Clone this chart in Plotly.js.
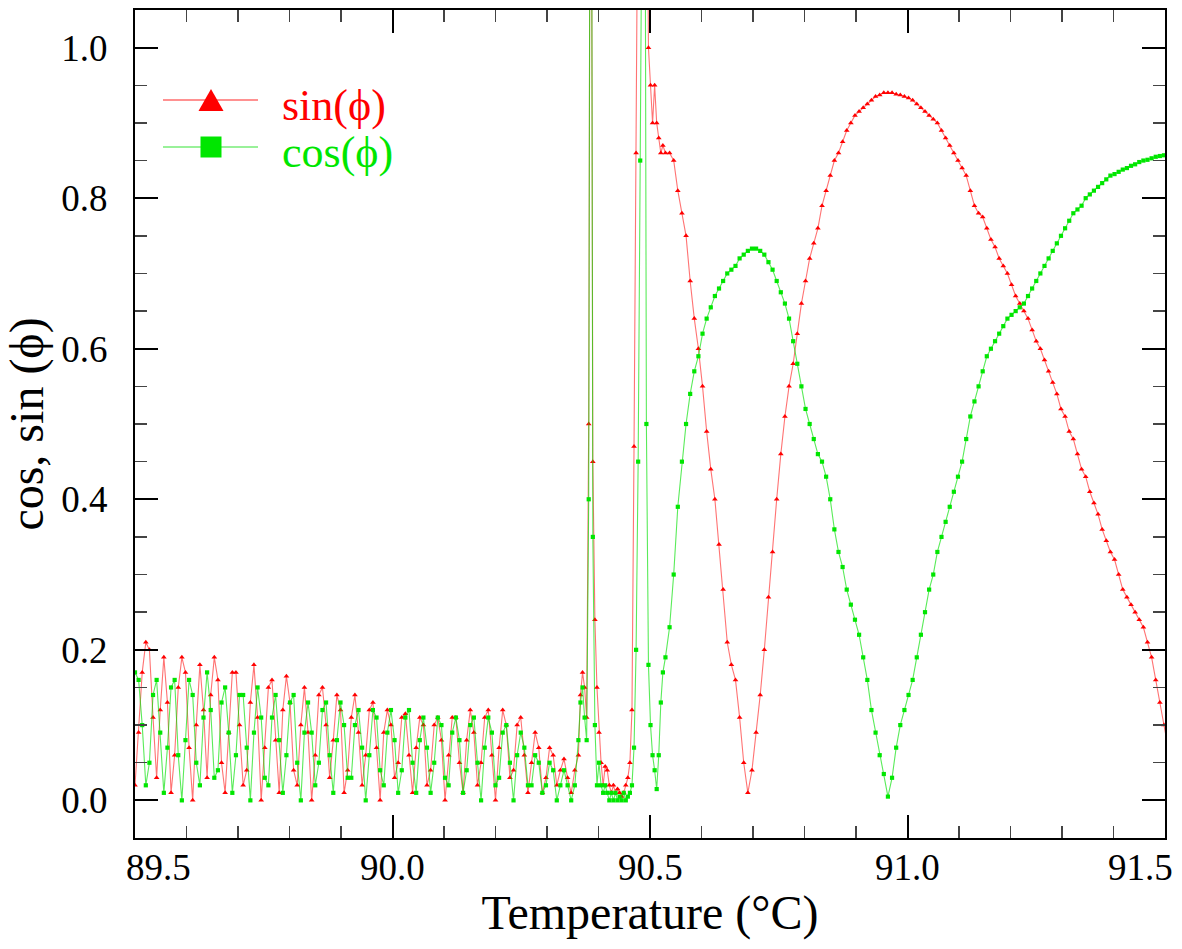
<!DOCTYPE html>
<html>
<head>
<meta charset="utf-8">
<script src="https://cdn.plot.ly/plotly-3.0.1.min.js"></script>
<style>
  html, body { margin: 0; padding: 0; background: #ffffff; }
  #chart { width: 1182px; height: 949px; }
</style>
</head>
<body>
<div id="chart"></div>
<script>
// ---- Data ----
// Region A: oscillating part before the transition
const tempA = [
  89.500, 89.507, 89.514, 89.521, 89.528, 89.535, 89.542, 89.549, 89.556, 89.563,
  89.570, 89.577, 89.584, 89.591, 89.598, 89.605, 89.612, 89.619, 89.626, 89.633,
  89.640, 89.647, 89.654, 89.661, 89.668, 89.675, 89.682, 89.689, 89.696, 89.703,
  89.710, 89.717, 89.724, 89.731, 89.738, 89.745, 89.752, 89.759, 89.766, 89.773,
  89.780, 89.787, 89.794, 89.801, 89.808, 89.815, 89.822, 89.829, 89.836, 89.843,
  89.850, 89.857, 89.864, 89.871, 89.878, 89.885, 89.892, 89.899, 89.906, 89.913,
  89.920, 89.927, 89.934, 89.941, 89.948, 89.955, 89.962, 89.969, 89.976, 89.983,
  89.990, 89.997, 90.004, 90.011, 90.018, 90.025, 90.032, 90.039, 90.046, 90.053,
  90.060, 90.067, 90.074, 90.081, 90.088, 90.095, 90.102, 90.109, 90.116, 90.123,
  90.130, 90.137, 90.144, 90.151, 90.158, 90.165, 90.172, 90.179, 90.186, 90.193,
  90.200, 90.207, 90.214, 90.221, 90.228, 90.235, 90.242, 90.249, 90.256, 90.263,
  90.270, 90.277, 90.284, 90.291, 90.298, 90.305, 90.312, 90.319, 90.326, 90.333,
  90.340, 90.347, 90.354, 90.361
];
const sinA = [
  0.02, 0.09, 0.17, 0.21, 0.20, 0.11, 0.03, 0.12, 0.19, 0.13,
  0.01, 0.06, 0.15, 0.19, 0.17, 0.07, 0.00, 0.10, 0.18, 0.12,
  0.03, 0.14, 0.19, 0.16, 0.05, 0.01, 0.09, 0.17, 0.17, 0.10,
  0.02, 0.04, 0.13, 0.18, 0.11, 0.00, 0.07, 0.15, 0.16, 0.08,
  0.01, 0.12, 0.165, 0.13, 0.04, 0.02, 0.10, 0.15, 0.09, 0.00,
  0.06, 0.14, 0.15, 0.10, 0.03, 0.08, 0.14, 0.12, 0.01, 0.04,
  0.11, 0.14, 0.09, 0.02, 0.06, 0.12, 0.13, 0.07, 0.00, 0.09,
  0.12, 0.10, 0.03, 0.05, 0.11, 0.115, 0.06, 0.01, 0.07, 0.11,
  0.10, 0.02, 0.04, 0.10, 0.11, 0.08, 0.00, 0.06, 0.11, 0.11,
  0.05, 0.01, 0.08, 0.12, 0.09, 0.02, 0.05, 0.11, 0.12, 0.06,
  0.00, 0.07, 0.12, 0.10, 0.03, 0.04, 0.10, 0.11, 0.06, 0.01,
  0.05, 0.09, 0.07, 0.01, 0.03, 0.07, 0.06, 0.02, 0.04, 0.055,
  0.03, 0.01, 0.04, 0.06
];
const cosA = [
  0.17, 0.16, 0.10, 0.02, 0.05, 0.14, 0.16, 0.09, 0.01, 0.07,
  0.15, 0.16, 0.06, 0.00, 0.08, 0.16, 0.14, 0.05, 0.02, 0.11,
  0.17, 0.12, 0.03, 0.04, 0.13, 0.15, 0.09, 0.01, 0.06, 0.14,
  0.14, 0.07, 0.00, 0.09, 0.15, 0.11, 0.03, 0.02, 0.11, 0.14,
  0.08, 0.01, 0.06, 0.13, 0.14, 0.05, 0.00, 0.09, 0.13, 0.09,
  0.02, 0.05, 0.12, 0.13, 0.06, 0.01, 0.08, 0.13, 0.10, 0.03,
  0.03, 0.10, 0.12, 0.07, 0.00, 0.06, 0.12, 0.11, 0.04, 0.02,
  0.09, 0.12, 0.08, 0.01, 0.04, 0.11, 0.12, 0.05, 0.01, 0.08,
  0.11, 0.07, 0.01, 0.05, 0.11, 0.10, 0.03, 0.02, 0.09, 0.11,
  0.08, 0.01, 0.04, 0.10, 0.11, 0.05, 0.00, 0.07, 0.11, 0.09,
  0.02, 0.03, 0.09, 0.10, 0.05, 0.00, 0.06, 0.09, 0.07, 0.02,
  0.02, 0.06, 0.05, 0.01, 0.02, 0.05, 0.04, 0.00, 0.02, 0.04,
  0.02, 0.00, 0.02, 0.08
];

// Region B: the two sharp spikes
const tempB = [
  90.365, 90.369, 90.373, 90.377, 90.381, 90.385, 90.389, 90.393, 90.397, 90.401,
  90.405, 90.409, 90.413, 90.417, 90.421, 90.425, 90.429, 90.433, 90.437, 90.441,
  90.445, 90.449, 90.453, 90.457, 90.461, 90.465, 90.469, 90.473, 90.477, 90.481,
  90.485, 90.489, 90.493, 90.497, 90.501, 90.505, 90.509, 90.513, 90.517, 90.521,
  90.525
];
const sinB = [
  0.14, 0.17, 0.15, 0.11, 0.50, 1.70, 0.45, 0.24, 0.15, 0.09,
  0.05, 0.02, 0.045, 0.04, 0.02, 0.01, 0.02, 0.01, 0.015, 0.01,
  0.005, 0.01, 0.02, 0.03, 0.05, 0.12, 0.47, 0.86, 1.30, 1.80,
  2.00, 1.80, 1.40, 1.00, 0.95, 0.90, 0.95, 0.90, 0.88, 0.86,
  0.87
];
const cosB = [
  0.13, 0.15, 0.11, 0.08, 0.40, 1.90, 0.35, 0.10, 0.02, 0.05,
  0.02, 0.01, 0.02, 0.01, 0.00, 0.01, 0.00, 0.01, 0.00, 0.005,
  0.00, 0.01, 0.00, 0.005, 0.01, 0.02, 0.07, 0.20, 0.45, 0.85,
  1.60, 1.70, 0.50, 0.18, 0.10, 0.06, 0.04, 0.015, 0.06, 0.13,
  0.17
];

// Region C: smooth part after the transition
const tempC = [
  90.530, 90.538, 90.546, 90.554, 90.562, 90.570, 90.578, 90.586, 90.594, 90.602,
  90.610, 90.618, 90.626, 90.634, 90.642, 90.650, 90.658, 90.666, 90.674, 90.682,
  90.690, 90.698, 90.706, 90.714, 90.722, 90.730, 90.738, 90.746, 90.754, 90.762,
  90.770, 90.778, 90.786, 90.794, 90.802, 90.810, 90.818, 90.826, 90.834, 90.842,
  90.850, 90.858, 90.866, 90.874, 90.882, 90.890, 90.898, 90.906, 90.914, 90.922,
  90.930, 90.938, 90.946, 90.954, 90.962, 90.970, 90.978, 90.986, 90.994, 91.002,
  91.010, 91.018, 91.026, 91.034, 91.042, 91.050, 91.058, 91.066, 91.074, 91.082,
  91.090, 91.098, 91.106, 91.114, 91.122, 91.130, 91.138, 91.146, 91.154, 91.162,
  91.170, 91.178, 91.186, 91.194, 91.202, 91.210, 91.218, 91.226, 91.234, 91.242,
  91.250, 91.258, 91.266, 91.274, 91.282, 91.290, 91.298, 91.306, 91.314, 91.322,
  91.330, 91.338, 91.346, 91.354, 91.362, 91.370, 91.378, 91.386, 91.394, 91.402,
  91.410, 91.418, 91.426, 91.434, 91.442, 91.450, 91.458, 91.466, 91.474, 91.482,
  91.490, 91.498, 91.506
];
const sinC = [
  0.86, 0.86, 0.85, 0.81, 0.78, 0.75, 0.69, 0.64, 0.60, 0.55,
  0.49, 0.44, 0.40, 0.34, 0.28, 0.21, 0.18, 0.16, 0.11, 0.05,
  0.01, 0.04, 0.09, 0.14, 0.20, 0.27, 0.33, 0.40, 0.46, 0.51,
  0.55, 0.58, 0.62, 0.66, 0.69, 0.72, 0.74, 0.76, 0.79, 0.81,
  0.83, 0.85, 0.86, 0.875, 0.89, 0.90, 0.91, 0.915, 0.92, 0.925,
  0.93, 0.935, 0.937, 0.94, 0.94, 0.94, 0.938, 0.937, 0.935, 0.933,
  0.93, 0.925, 0.92, 0.915, 0.91, 0.905, 0.90, 0.89, 0.88, 0.87,
  0.86, 0.85, 0.84, 0.83, 0.81, 0.79, 0.78, 0.775, 0.76, 0.745,
  0.735, 0.72, 0.71, 0.70, 0.685, 0.67, 0.66, 0.65, 0.64, 0.625,
  0.61, 0.60, 0.585, 0.57, 0.555, 0.54, 0.52, 0.51, 0.49, 0.48,
  0.46, 0.44, 0.43, 0.41, 0.395, 0.38, 0.36, 0.345, 0.33, 0.32,
  0.30, 0.28, 0.27, 0.26, 0.25, 0.24, 0.23, 0.21, 0.19, 0.16,
  0.13, 0.10, 0.07
];
const cosC = [
  0.19, 0.23, 0.30, 0.39, 0.45, 0.50, 0.54, 0.57, 0.59, 0.62,
  0.64, 0.655, 0.67, 0.68, 0.69, 0.70, 0.705, 0.71, 0.72, 0.725,
  0.73, 0.733, 0.733, 0.73, 0.725, 0.715, 0.705, 0.69, 0.675, 0.66,
  0.64, 0.61, 0.58, 0.55, 0.52, 0.50, 0.48, 0.46, 0.45, 0.43,
  0.40, 0.36, 0.33, 0.31, 0.28, 0.26, 0.24, 0.22, 0.19, 0.16,
  0.12, 0.09, 0.06, 0.035, 0.005, 0.03, 0.07, 0.10, 0.12, 0.14,
  0.16, 0.19, 0.22, 0.25, 0.28, 0.30, 0.33, 0.35, 0.37, 0.39,
  0.41, 0.43, 0.45, 0.48, 0.51, 0.53, 0.55, 0.57, 0.59, 0.60,
  0.61, 0.62, 0.63, 0.64, 0.645, 0.65, 0.655, 0.66, 0.67, 0.68,
  0.69, 0.70, 0.71, 0.72, 0.73, 0.74, 0.75, 0.76, 0.77, 0.78,
  0.785, 0.79, 0.80, 0.805, 0.81, 0.815, 0.82, 0.825, 0.83, 0.832,
  0.835, 0.838, 0.84, 0.843, 0.845, 0.848, 0.85, 0.851, 0.853, 0.855,
  0.856, 0.857, 0.859
];

const seriesNames = ['sin(\u03D5)', 'cos(\u03D5)'];
const xTickVals = [89.5, 90.0, 90.5, 91.0, 91.5];
const xTickLabels = ['89.5', '90.0', '90.5', '91.0', '91.5'];
const xTitle = 'Temperature (\u00B0C)';
const yTitle = 'cos, sin (\u03D5)';

// ---- Build traces ----
const temperature = tempA.concat(tempB, tempC);
const sinPhi = sinA.concat(sinB, sinC);
const cosPhi = cosA.concat(cosB, cosC);

const RED = '#ff0000';
const GREEN = '#00e600';
const FONT = 'Liberation Serif';

const traces = [
  {
    x: temperature, y: sinPhi, name: seriesNames[0], type: 'scatter', mode: 'lines+markers',
    line: { color: 'rgba(255,40,40,0.65)', width: 1.1 },
    marker: { symbol: 'triangle-up', size: 5, color: RED, line: { width: 0 } },
    cliponaxis: true
  },
  {
    x: temperature, y: cosPhi, name: seriesNames[1], type: 'scatter', mode: 'lines+markers',
    line: { color: 'rgba(0,225,0,0.65)', width: 1.1 },
    marker: { symbol: 'square', size: 4.2, color: GREEN, line: { width: 0 } },
    cliponaxis: true
  }
];

// ---- Layout ----
const L = 135, R = 1165, T = 10, B = 838;
const W = R - L, H = B - T;
function px(xp) { return (xp - L) / W; }
function py(yp) { return (B - yp) / H; }

const annotations = xTickVals.map((v, i) => ({
  x: v, xref: 'x', y: py(867), yref: 'paper',
  text: xTickLabels[i], showarrow: false,
  xanchor: 'center', yanchor: 'middle',
  xshift: i === 0 ? 23 : (i === xTickVals.length - 1 ? -25 : 0),
  font: { family: FONT, size: 37, color: '#000' }
}));

// legend entries (drawn by hand to keep the long sample lines)
annotations.push(
  { x: px(280), xref: 'paper', y: py(106), yref: 'paper', text: seriesNames[0], showarrow: false,
    xanchor: 'left', yanchor: 'middle', font: { family: FONT, size: 44, color: RED } },
  { x: px(280), xref: 'paper', y: py(152), yref: 'paper', text: seriesNames[1], showarrow: false,
    xanchor: 'left', yanchor: 'middle', font: { family: FONT, size: 44, color: GREEN } }
);

const shapes = [
  { type: 'line', xref: 'paper', yref: 'paper', x0: px(163), x1: px(258), y0: py(100), y1: py(100),
    line: { color: 'rgba(255,60,60,0.75)', width: 1.5 } },
  { type: 'path', xref: 'paper', yref: 'paper',
    path: 'M ' + px(198.5) + ' ' + py(111) + ' L ' + px(223.5) + ' ' + py(111) + ' L ' + px(211) + ' ' + py(89) + ' Z',
    fillcolor: RED, line: { width: 0 } },
  { type: 'line', xref: 'paper', yref: 'paper', x0: px(163), x1: px(258), y0: py(147), y1: py(147),
    line: { color: 'rgba(0,220,0,0.8)', width: 1.2 } },
  { type: 'rect', xref: 'paper', yref: 'paper', x0: px(200.5), x1: px(221.5), y0: py(157.5), y1: py(136.5),
    fillcolor: GREEN, line: { width: 0 } }
];

const layout = {
  width: 1182, height: 949,
  margin: { l: L, r: 1182 - R, t: T, b: 949 - B, pad: 0 },
  paper_bgcolor: '#ffffff', plot_bgcolor: '#ffffff',
  showlegend: false,
  font: { family: FONT, color: '#000' },
  xaxis: {
    range: [89.5, 91.5], showgrid: false, zeroline: false,
    showline: true, linecolor: '#000', linewidth: 2, mirror: 'ticks',
    ticks: 'inside', ticklen: 23, tickwidth: 2, tickcolor: '#000',
    tickmode: 'array', tickvals: xTickVals, showticklabels: false,
    minor: { dtick: 0.1, tick0: 89.5, ticks: 'inside', ticklen: 12, tickwidth: 1.5, tickcolor: '#444', showgrid: false },
    title: { text: xTitle, font: { family: FONT, size: 48, color: '#000' }, standoff: 56 }
  },
  yaxis: {
    range: [-0.05, 1.05], showgrid: false, zeroline: false,
    showline: true, linecolor: '#000', linewidth: 2, mirror: 'ticks',
    ticks: 'inside', ticklen: 23, tickwidth: 2, tickcolor: '#000',
    tick0: 0, dtick: 0.2, tickformat: '.1f',
    tickfont: { family: FONT, size: 37, color: '#000' },
    ticklabelstandoff: 18,
    minor: { dtick: 0.05, tick0: 0, ticks: 'inside', ticklen: 12, tickwidth: 1.5, tickcolor: '#444', showgrid: false },
    title: { text: yTitle, font: { family: FONT, size: 48, color: '#000' }, standoff: 24 }
  },
  annotations: annotations,
  shapes: shapes
};

Plotly.newPlot('chart', traces, layout, { displayModeBar: false, staticPlot: true });
</script>
</body>
</html>
